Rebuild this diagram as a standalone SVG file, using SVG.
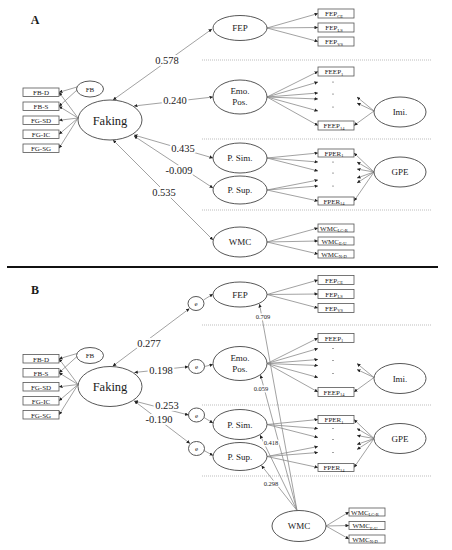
<svg xmlns="http://www.w3.org/2000/svg" width="452" height="550" viewBox="0 0 452 550">
<style>
text{font-family:"Liberation Serif","Times New Roman",serif;fill:#1a1a1a}
.el{fill:#fff;stroke:#444;stroke-width:0.9}
.bx{fill:#fff;stroke:#555;stroke-width:0.8}
.bt{font-size:7px;text-anchor:middle}
.sb{font-size:4.5px}
.lt{font-size:9px;text-anchor:middle}
.big{font-size:12.5px;text-anchor:middle}
.ln{fill:none;stroke:#8a8a8a;stroke-width:0.8;marker-end:url(#ah)}
.dbl{fill:none;stroke:#8a8a8a;stroke-width:0.8;marker-start:url(#ah);marker-end:url(#ah)}
.coef{font-size:10.5px;text-anchor:middle;paint-order:stroke;stroke:#fff;stroke-width:4px}
.sc{font-size:6.5px;text-anchor:middle;paint-order:stroke;stroke:#fff;stroke-width:3px}
.sep{stroke:#bdbdbd;stroke-width:1;stroke-dasharray:1 1}
.dt{fill:#333}
.pl{font-size:12px;font-weight:bold;text-anchor:middle}
</style>
<defs>
<marker id="ah" viewBox="0 0 6 6" refX="6" refY="3" markerWidth="3.5" markerHeight="3.5" markerUnits="userSpaceOnUse" orient="auto-start-reverse">
<path d="M0,0 L6,3 L0,6 z" fill="#222"/>
</marker>
</defs>
<rect width="452" height="550" fill="#fff"/>

<!-- ================= PANEL A ================= -->
<text class="pl" x="35" y="24">A</text>
<g id="A-separators">
<line class="sep" x1="202" y1="60" x2="431" y2="60"/>
<line class="sep" x1="202" y1="139" x2="431" y2="139"/>
<line class="sep" x1="202" y1="210" x2="431" y2="210"/>
</g>

<g id="A-connectors">
<path class="ln" d="M78,118 L59,92.3"/>
<path class="ln" d="M78,118 L59,106.3"/>
<path class="ln" d="M78,118 L59,120.3"/>
<path class="ln" d="M78,118 L59,134.3"/>
<path class="ln" d="M78,118 L59,148.3"/>
<path class="ln" d="M77,87 L59,92.3"/>
<path class="ln" d="M77,90 L59,106.3"/>
<path class="dbl" d="M113,100 L212,29"/>
<path class="dbl" d="M134,106 L213,97"/>
<path class="dbl" d="M134,135 L213,158"/>
<path class="dbl" d="M134,136 L213,188"/>
<path class="dbl" d="M113,140 L213,240"/>
<path class="ln" d="M267,28 L318,13.5"/>
<path class="ln" d="M267,28 L318,27.5"/>
<path class="ln" d="M267,28 L318,41.5"/>
<path class="ln" d="M267,97 L318,71.5"/>
<path class="ln" d="M267,97 L318,82"/>
<path class="ln" d="M267,97 L318,93"/>
<path class="ln" d="M267,97 L318,99"/>
<path class="ln" d="M267,97 L318,111"/>
<path class="ln" d="M267,97 L318,125.5"/>
<path class="ln" d="M374,111 L357,97"/>
<path class="ln" d="M374,111 L357,103"/>
<path class="ln" d="M374,111 L354,125.5"/>
<path class="ln" d="M267,158 L318,153"/>
<path class="ln" d="M267,158 L318,162"/>
<path class="ln" d="M267,158 L318,171"/>
<path class="ln" d="M267,190 L318,180"/>
<path class="ln" d="M267,190 L318,186"/>
<path class="ln" d="M267,190 L318,201"/>
<path class="ln" d="M374,172 L354,153"/>
<path class="ln" d="M374,172 L357,162"/>
<path class="ln" d="M374,172 L357,169"/>
<path class="ln" d="M374,172 L357,178"/>
<path class="ln" d="M374,172 L357,183"/>
<path class="ln" d="M374,172 L354,201"/>
<path class="ln" d="M267,242 L318,228"/>
<path class="ln" d="M267,242 L318,241"/>
<path class="ln" d="M267,242 L318,254"/>
<text class="coef" x="167" y="64">0.578</text>
<text class="coef" x="175" y="104">0.240</text>
<text class="coef" x="183" y="152">0.435</text>
<text class="coef" x="179" y="174">-0.009</text>
<text class="coef" x="164" y="196">0.535</text>
</g>

<g id="A-indicators">
<rect class="bx" x="23" y="88" width="36" height="8.5"/><text class="bt" x="41" y="95">FB-D</text>
<rect class="bx" x="23" y="102" width="36" height="8.5"/><text class="bt" x="41" y="109">FB-S</text>
<rect class="bx" x="23" y="116" width="36" height="8.5"/><text class="bt" x="41" y="123">FG-SD</text>
<rect class="bx" x="23" y="130" width="36" height="8.5"/><text class="bt" x="41" y="137">FG-IC</text>
<rect class="bx" x="23" y="144" width="36" height="8.5"/><text class="bt" x="41" y="151">FG-SG</text>
</g>
<g id="A-FB"><ellipse class="el" cx="90" cy="89" rx="13.5" ry="8"/><text class="bt" x="90" y="91.5">FB</text></g>
<g id="A-Faking"><ellipse class="el" cx="110" cy="120" rx="32" ry="20"/><text class="big" x="110" y="124.5">Faking</text></g>

<g id="A-FEP">
<ellipse class="el" cx="240" cy="28" rx="27" ry="12.5"/><text class="lt" x="240" y="31">FEP</text>
<rect class="bx" x="318" y="9" width="36" height="9"/><text class="bt" x="334" y="16">FEP<tspan class="sb" dy="1.5">CE</tspan></text>
<rect class="bx" x="318" y="23" width="36" height="9"/><text class="bt" x="334" y="30">FEP<tspan class="sb" dy="1.5">LS</tspan></text>
<rect class="bx" x="318" y="37" width="36" height="9"/><text class="bt" x="334" y="44">FEP<tspan class="sb" dy="1.5">VS</tspan></text>
</g>
<g id="A-EmoPos">
<ellipse class="el" cx="240" cy="97" rx="27" ry="17"/>
<text class="lt" x="240" y="94">Emo.</text><text class="lt" x="240" y="105">Pos.</text>
<rect class="bx" x="318" y="67" width="36" height="9"/><text class="bt" x="334" y="74">FEEP<tspan class="sb" dy="1.5">1</tspan></text>
<circle class="dt" cx="333" cy="82" r="0.6"/><circle class="dt" cx="333" cy="94" r="0.6"/><circle class="dt" cx="333" cy="107" r="0.6"/>
<rect class="bx" x="318" y="121" width="36" height="9"/><text class="bt" x="334" y="128">FEEP<tspan class="sb" dy="1.5">14</tspan></text>
</g>
<g id="A-Imi"><ellipse class="el" cx="400" cy="112" rx="26" ry="15"/><text class="lt" x="400" y="115">Imi.</text></g>
<g id="A-PSim"><ellipse class="el" cx="240" cy="158" rx="27" ry="15"/><text class="lt" x="240" y="161">P. Sim.</text></g>
<g id="A-PSup"><ellipse class="el" cx="240" cy="190" rx="27" ry="14"/><text class="lt" x="240" y="193">P. Sup.</text></g>
<g id="A-FPER">
<rect class="bx" x="318" y="149" width="36" height="8"/><text class="bt" x="334" y="155.5">FPER<tspan class="sb" dy="1.5">1</tspan></text>
<circle class="dt" cx="333" cy="162" r="0.6"/><circle class="dt" cx="333" cy="173" r="0.6"/><circle class="dt" cx="333" cy="186" r="0.6"/>
<rect class="bx" x="318" y="197" width="36" height="8"/><text class="bt" x="334" y="203.5">FPER<tspan class="sb" dy="1.5">14</tspan></text>
</g>
<g id="A-GPE"><ellipse class="el" cx="400" cy="172" rx="26" ry="15"/><text class="lt" x="400" y="175">GPE</text></g>
<g id="A-WMC">
<ellipse class="el" cx="240" cy="242" rx="27" ry="15"/><text class="lt" x="240" y="245">WMC</text>
<rect class="bx" x="318" y="224" width="36" height="8"/><text class="bt" x="334" y="230.5">WMC<tspan class="sb" dy="1.5">LC-R</tspan></text>
<rect class="bx" x="318" y="237" width="36" height="8"/><text class="bt" x="334" y="243.5">WMC<tspan class="sb" dy="1.5">E-U</tspan></text>
<rect class="bx" x="318" y="250" width="36" height="8"/><text class="bt" x="334" y="256.5">WMC<tspan class="sb" dy="1.5">N-D</tspan></text>
</g>

<line x1="7" y1="267" x2="438" y2="267" stroke="#111" stroke-width="2"/>

<!-- ================= PANEL B ================= -->
<text class="pl" x="35" y="294">B</text>
<g id="B-separators" transform="translate(0,266)">
<line class="sep" x1="202" y1="59" x2="431" y2="59"/>
<line class="sep" x1="202" y1="139" x2="431" y2="139"/>
<line class="sep" x1="202" y1="210" x2="431" y2="210"/>
</g>

<g id="B-connectors">
<g transform="translate(0,266.5)">
<path class="ln" d="M78,118 L59,92.3"/>
<path class="ln" d="M78,118 L59,106.3"/>
<path class="ln" d="M78,118 L59,120.3"/>
<path class="ln" d="M78,118 L59,134.3"/>
<path class="ln" d="M78,118 L59,148.3"/>
<path class="ln" d="M77,87 L59,92.3"/>
<path class="ln" d="M77,90 L59,106.3"/>
<path class="dbl" d="M112.7,99.7 L189.5,42"/>
<path class="dbl" d="M134.3,106 L188.5,100.2"/>
<path class="dbl" d="M134.3,134.5 L188.5,148.5"/>
<path class="dbl" d="M134.3,134.5 L190,177"/>
<path class="ln" d="M203.5,33.5 L213,27.5"/>
<path class="ln" d="M204.5,100 L213,98"/>
<path class="ln" d="M204,151 L213,156.5"/>
<path class="ln" d="M204,184 L213,189"/>
<path class="ln" d="M267,28 L318,13.5"/>
<path class="ln" d="M267,28 L318,27.5"/>
<path class="ln" d="M267,28 L318,41.5"/>
<path class="ln" d="M267,97 L318,71.5"/>
<path class="ln" d="M267,97 L318,82"/>
<path class="ln" d="M267,97 L318,93"/>
<path class="ln" d="M267,97 L318,99"/>
<path class="ln" d="M267,97 L318,111"/>
<path class="ln" d="M267,97 L318,125.5"/>
<path class="ln" d="M374,111 L357,97"/>
<path class="ln" d="M374,111 L357,103"/>
<path class="ln" d="M374,111 L354,125.5"/>
<path class="ln" d="M267,158 L318,153"/>
<path class="ln" d="M267,158 L318,162"/>
<path class="ln" d="M267,158 L318,171"/>
<path class="ln" d="M267,190 L318,180"/>
<path class="ln" d="M267,190 L318,186"/>
<path class="ln" d="M267,190 L318,201"/>
<path class="ln" d="M374,172 L354,153"/>
<path class="ln" d="M374,172 L357,162"/>
<path class="ln" d="M374,172 L357,169"/>
<path class="ln" d="M374,172 L357,178"/>
<path class="ln" d="M374,172 L357,183"/>
<path class="ln" d="M374,172 L354,201"/>
<text class="coef" x="149" y="80">0.277</text>
<text class="coef" x="161" y="107">0.198</text>
<text class="coef" x="167" y="142">0.253</text>
<text class="coef" x="159" y="156.5">-0.190</text>
</g>
<path class="ln" d="M297,510.5 L259.5,304"/>
<path class="ln" d="M297,510.5 L260.5,375"/>
<path class="ln" d="M297,510.5 L260,435"/>
<path class="ln" d="M297,510.5 L261.5,465.5"/>
<path class="ln" d="M326,526 L349,512"/>
<path class="ln" d="M326,526 L349,525.5"/>
<path class="ln" d="M326,526 L349,539"/>
<text class="sc" x="263" y="319">0.709</text>
<text class="sc" x="261" y="391">0.059</text>
<text class="sc" x="271" y="445">0.418</text>
<text class="sc" x="271" y="485.5">0.298</text>
</g>

<g id="B-indicators" transform="translate(0,266.5)">
<rect class="bx" x="23" y="88" width="36" height="8.5"/><text class="bt" x="41" y="95">FB-D</text>
<rect class="bx" x="23" y="102" width="36" height="8.5"/><text class="bt" x="41" y="109">FB-S</text>
<rect class="bx" x="23" y="116" width="36" height="8.5"/><text class="bt" x="41" y="123">FG-SD</text>
<rect class="bx" x="23" y="130" width="36" height="8.5"/><text class="bt" x="41" y="137">FG-IC</text>
<rect class="bx" x="23" y="144" width="36" height="8.5"/><text class="bt" x="41" y="151">FG-SG</text>
</g>
<g id="B-FB" transform="translate(0,266.5)"><ellipse class="el" cx="90" cy="89" rx="13.5" ry="8"/><text class="bt" x="90" y="91.5">FB</text></g>
<g id="B-Faking" transform="translate(0,266.5)"><ellipse class="el" cx="110" cy="120" rx="32" ry="20"/><text class="big" x="110" y="124.5">Faking</text></g>
<g id="B-e1"><ellipse class="el" cx="196" cy="303.5" rx="8" ry="7"/><text class="bt" x="196" y="306">e</text></g>
<g id="B-e2"><ellipse class="el" cx="196.5" cy="366.5" rx="8" ry="7"/><text class="bt" x="196.5" y="369">e</text></g>
<g id="B-e3"><ellipse class="el" cx="196.5" cy="415" rx="8" ry="7"/><text class="bt" x="196.5" y="417.5">e</text></g>
<g id="B-e4"><ellipse class="el" cx="196.5" cy="448.5" rx="8" ry="7"/><text class="bt" x="196.5" y="451">e</text></g>

<g id="B-FEP" transform="translate(0,266.5)">
<ellipse class="el" cx="240" cy="28" rx="27" ry="12.5"/><text class="lt" x="240" y="31">FEP</text>
<rect class="bx" x="318" y="9" width="36" height="9"/><text class="bt" x="334" y="16">FEP<tspan class="sb" dy="1.5">CE</tspan></text>
<rect class="bx" x="318" y="23" width="36" height="9"/><text class="bt" x="334" y="30">FEP<tspan class="sb" dy="1.5">LS</tspan></text>
<rect class="bx" x="318" y="37" width="36" height="9"/><text class="bt" x="334" y="44">FEP<tspan class="sb" dy="1.5">VS</tspan></text>
</g>
<g id="B-EmoPos" transform="translate(0,266.5)">
<ellipse class="el" cx="240" cy="97" rx="27" ry="17"/>
<text class="lt" x="240" y="94">Emo.</text><text class="lt" x="240" y="105">Pos.</text>
<rect class="bx" x="318" y="67" width="36" height="9"/><text class="bt" x="334" y="74">FEEP<tspan class="sb" dy="1.5">1</tspan></text>
<circle class="dt" cx="333" cy="82" r="0.6"/><circle class="dt" cx="333" cy="94" r="0.6"/><circle class="dt" cx="333" cy="107" r="0.6"/>
<rect class="bx" x="318" y="121" width="36" height="9"/><text class="bt" x="334" y="128">FEEP<tspan class="sb" dy="1.5">14</tspan></text>
</g>
<g id="B-Imi" transform="translate(0,266.5)"><ellipse class="el" cx="400" cy="112" rx="26" ry="15"/><text class="lt" x="400" y="115">Imi.</text></g>
<g id="B-PSim" transform="translate(0,266.5)"><ellipse class="el" cx="240" cy="158" rx="27" ry="15"/><text class="lt" x="240" y="161">P. Sim.</text></g>
<g id="B-PSup" transform="translate(0,266.5)"><ellipse class="el" cx="240" cy="190" rx="27" ry="14"/><text class="lt" x="240" y="193">P. Sup.</text></g>
<g id="B-FPER" transform="translate(0,266.5)">
<rect class="bx" x="318" y="149" width="36" height="8"/><text class="bt" x="334" y="155.5">FPER<tspan class="sb" dy="1.5">1</tspan></text>
<circle class="dt" cx="333" cy="162" r="0.6"/><circle class="dt" cx="333" cy="173" r="0.6"/><circle class="dt" cx="333" cy="186" r="0.6"/>
<rect class="bx" x="318" y="197" width="36" height="8"/><text class="bt" x="334" y="203.5">FPER<tspan class="sb" dy="1.5">14</tspan></text>
</g>
<g id="B-GPE" transform="translate(0,266.5)"><ellipse class="el" cx="400" cy="172" rx="26" ry="15"/><text class="lt" x="400" y="175">GPE</text></g>
<g id="B-WMC">
<ellipse class="el" cx="299" cy="526" rx="27" ry="15.5"/><text class="lt" x="299" y="529">WMC</text>
<rect class="bx" x="349" y="508" width="36" height="8"/><text class="bt" x="365" y="514.5">WMC<tspan class="sb" dy="1.5">LC-R</tspan></text>
<rect class="bx" x="349" y="521.5" width="36" height="8"/><text class="bt" x="365" y="528">WMC<tspan class="sb" dy="1.5">E-U</tspan></text>
<rect class="bx" x="349" y="535" width="36" height="8"/><text class="bt" x="365" y="541.5">WMC<tspan class="sb" dy="1.5">N-D</tspan></text>
</g>
</svg>
